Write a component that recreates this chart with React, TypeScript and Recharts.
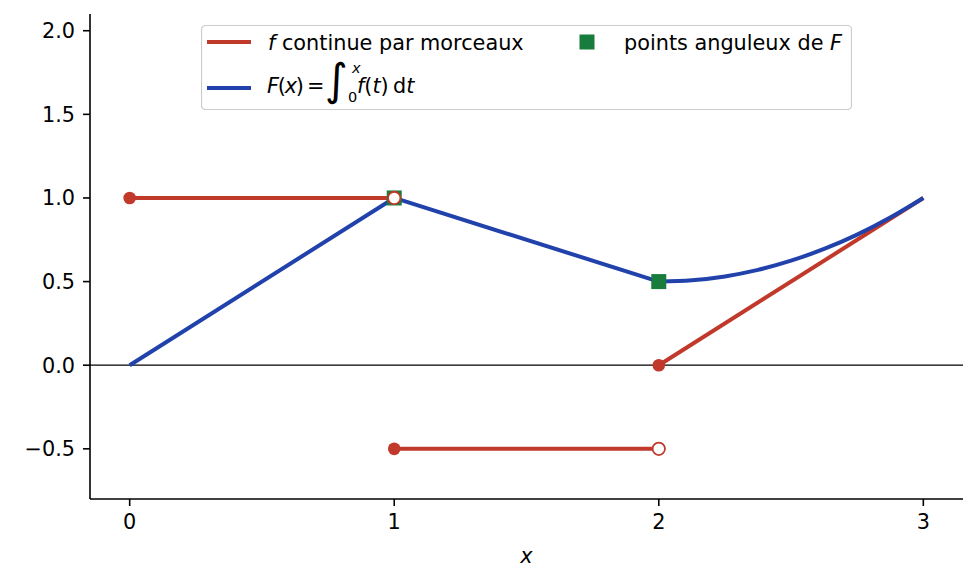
import React from 'react';
import {
  ComposedChart,
  Line,
  XAxis,
  YAxis,
  ReferenceLine,
  Legend,
  Label,
} from 'recharts';

// ---- data ----
const xTicks = [0, 1, 2, 3];
const yTicks = [-0.5, 0, 0.5, 1, 1.5, 2];

// f piecewise continuous
const fPiece1 = [
  { x: 0, y: 1 },
  { x: 1, y: 1 },
];
const fPiece2 = [
  { x: 1, y: -0.5 },
  { x: 2, y: -0.5 },
];
const fPiece3 = [
  { x: 2, y: 0 },
  { x: 3, y: 1 },
];

// F = integral of f
const FLinear = [
  { x: 0, y: 0 },
  { x: 1, y: 1 },
  { x: 2, y: 0.5 },
];
const FCurve = [
  { x: 2, y: 0.5 },
  { x: 2.125, y: 0.508 },
  { x: 2.25, y: 0.531 },
  { x: 2.375, y: 0.57 },
  { x: 2.5, y: 0.625 },
  { x: 2.625, y: 0.695 },
  { x: 2.75, y: 0.781 },
  { x: 2.875, y: 0.883 },
  { x: 3, y: 1 },
];

const cornerPoints = [
  { x: 1, y: 1 },
  { x: 2, y: 0.5 },
];
const closedPoints = [
  { x: 0, y: 1 },
  { x: 1, y: -0.5 },
  { x: 2, y: 0 },
];
const openPoints = [
  { x: 1, y: 1 },
  { x: 2, y: -0.5 },
];

const RED = '#c0392b';
const BLUE = '#2142ab';
const GREEN = '#187c3c';
const FONT = '"DejaVu Sans", sans-serif';
const FS = 20.8;

const fmt = (v: number) => (v < 0 ? '\u2212' + Math.abs(v).toFixed(1) : v.toFixed(1));

const squareDot = (p: any) => (
  <rect
    key={`sq-${p.index}`}
    x={p.cx - 7.5}
    y={p.cy - 7.5}
    width={15}
    height={15}
    fill={GREEN}
  />
);
const closedDot = (p: any) => (
  <circle key={`cd-${p.index}`} cx={p.cx} cy={p.cy} r={6.3} fill={RED} />
);
const openDot = (p: any) => (
  <circle
    key={`od-${p.index}`}
    cx={p.cx}
    cy={p.cy}
    r={6.2}
    fill="#ffffff"
    stroke={RED}
    strokeWidth={1.8}
  />
);

const LegendContent = () => (
  <svg width={651} height={85} style={{ display: 'block', fontFamily: FONT }}>
    <rect
      x={0.5}
      y={0.5}
      width={650}
      height={84}
      rx={4}
      ry={4}
      fill="#ffffff"
      fillOpacity={0.8}
      stroke="#cccccc"
      strokeWidth={1.2}
    />
    <line x1={6} x2={50} y1={17} y2={17} stroke={RED} strokeWidth={4} />
    <text x={67} y={24.5} fontSize={FS} fill="#000">
      <tspan fontStyle="italic">f</tspan>
      <tspan> continue par morceaux</tspan>
    </text>
    <rect x={378.5} y={9.5} width={15} height={15} fill={GREEN} />
    <text x={423} y={24.5} fontSize={FS} fill="#000">
      <tspan>points anguleux de </tspan>
      <tspan fontStyle="italic">F</tspan>
    </text>
    <line x1={6} x2={50} y1={63} y2={63} stroke={BLUE} strokeWidth={4} />
    <text x={66} y={68} fontSize={FS} fill="#000" letterSpacing={-1.2}>
      <tspan fontStyle="italic">F</tspan>
      <tspan>(</tspan>
      <tspan fontStyle="italic">x</tspan>
      <tspan>)</tspan>
    </text>
    <text x={106} y={68} fontSize={FS} fill="#000">
      =
    </text>
    <text x={124} y={70} fontSize={44} fill="#000">
      ∫
    </text>
    <text x={151} y={48} fontSize={14.5} fill="#000" fontStyle="italic">
      x
    </text>
    <text x={147} y={77} fontSize={14.5} fill="#000">
      0
    </text>
    <text x={156} y={68} fontSize={FS} fill="#000">
      <tspan fontStyle="italic">f</tspan>
      <tspan>(</tspan>
      <tspan fontStyle="italic">t</tspan>
      <tspan>)</tspan>
    </text>
    <text x={192} y={68} fontSize={FS} fill="#000">
      <tspan>d</tspan>
      <tspan fontStyle="italic">t</tspan>
    </text>
  </svg>
);

const tickStyle = { fill: '#000', fontSize: FS, fontFamily: FONT };
const axisLineStyle = { stroke: '#000', strokeWidth: 1.6 };

export default function App() {
  return (
    <div style={{ position: 'absolute', left: 0, top: 0, width: 977, height: 588, background: '#fff' }}>
      <ComposedChart
        width={977}
        height={588}
        margin={{ top: 14, right: 14, bottom: 0, left: 0 }}
        style={{ fontFamily: FONT }}
      >
        <XAxis
          type="number"
          dataKey="x"
          domain={[-0.15, 3.15]}
          ticks={xTicks}
          allowDataOverflow
          height={89}
          tickSize={7}
          tickMargin={8}
          tick={tickStyle}
          axisLine={axisLineStyle}
          tickLine={axisLineStyle}
          interval={0}
        >
          <Label
            value="x"
            position="insideBottom"
            offset={25}
            style={{ fill: '#000', fontSize: FS, fontFamily: FONT, fontStyle: 'italic' }}
          />
        </XAxis>
        <YAxis
          type="number"
          dataKey="y"
          domain={[-0.8, 2.1]}
          ticks={yTicks}
          allowDataOverflow
          width={90}
          tickSize={7}
          tickMargin={8}
          tick={tickStyle}
          tickFormatter={fmt}
          axisLine={axisLineStyle}
          tickLine={axisLineStyle}
          interval={0}
        />
        <ReferenceLine y={0} stroke="#000" strokeWidth={1.2} />
        <Line data={fPiece1} dataKey="y" type="linear" stroke={RED} strokeWidth={4} dot={false} isAnimationActive={false} legendType="none" />
        <Line data={fPiece2} dataKey="y" type="linear" stroke={RED} strokeWidth={4} dot={false} isAnimationActive={false} legendType="none" />
        <Line data={fPiece3} dataKey="y" type="linear" stroke={RED} strokeWidth={4} dot={false} isAnimationActive={false} legendType="none" />
        <Line data={FLinear} dataKey="y" type="linear" stroke={BLUE} strokeWidth={4} dot={false} isAnimationActive={false} legendType="none" strokeLinejoin="round" />
        <Line data={FCurve} dataKey="y" type="monotone" stroke={BLUE} strokeWidth={4} dot={false} isAnimationActive={false} legendType="none" />
        <Line data={cornerPoints} dataKey="y" stroke="none" dot={squareDot} activeDot={false} isAnimationActive={false} legendType="none" />
        <Line data={closedPoints} dataKey="y" stroke="none" dot={closedDot} activeDot={false} isAnimationActive={false} legendType="none" />
        <Line data={openPoints} dataKey="y" stroke="none" dot={openDot} activeDot={false} isAnimationActive={false} legendType="none" />
        <Legend
          layout="horizontal"
          verticalAlign="middle"
          align="center"
          wrapperStyle={{ position: 'absolute', left: 201, top: 25, width: 651, height: 85 }}
          content={LegendContent}
        />
      </ComposedChart>
    </div>
  );
}
